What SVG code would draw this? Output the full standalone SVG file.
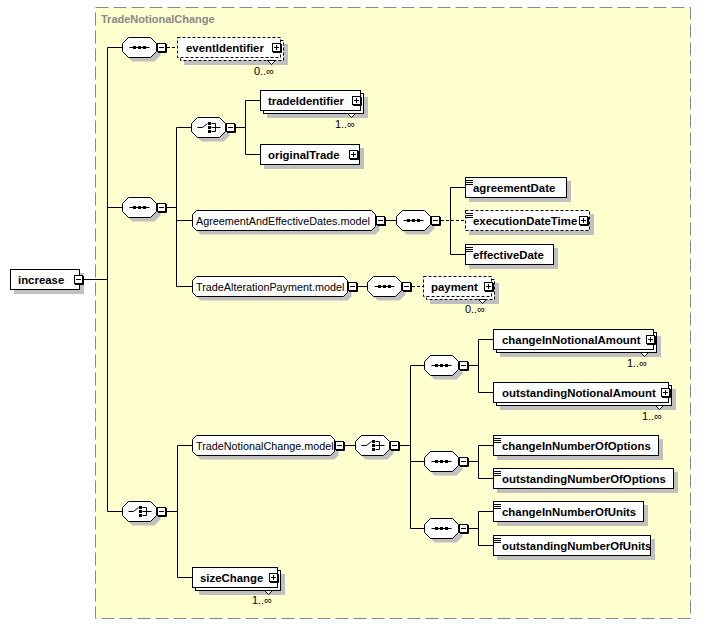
<svg xmlns="http://www.w3.org/2000/svg" xmlns:xlink="http://www.w3.org/1999/xlink" width="702" height="625" viewBox="0 0 702 625">
<style>
.bx{fill:#fff;stroke:#000;stroke-width:1}
.op{stroke-dasharray:3,2}
.sh{fill:#c0c0c0;stroke:none}
.el{font-family:"Liberation Sans",Arial,sans-serif;font-weight:bold;font-size:11.4px;fill:#000}
.md{font-family:"Liberation Sans",Arial,sans-serif;font-size:10.8px;fill:#000}
.oc{font-family:"Liberation Sans",Arial,sans-serif;font-size:11px;fill:#000;text-anchor:end}
.ic{stroke:#000;stroke-width:1;fill:none}
.cn{stroke:#000;stroke-width:1;fill:none}
.dcn{stroke:#000;stroke-width:1;fill:none;stroke-dasharray:3,2}
</style>
<defs>
<g id="mn"><rect x="0.5" y="0.5" width="8" height="8" fill="#fff" stroke="#000"/><path d="M9.5 1V9.5H1" stroke="#000" fill="none"/><path d="M2 4.5H7" stroke="#000"/></g>
<g id="pl"><rect x="0.5" y="0.5" width="8" height="8" fill="#fff" stroke="#000"/><path d="M9.5 1V9.5H1" stroke="#000" fill="none"/><path d="M2 4.5H7M4.5 2V7" stroke="#000"/></g>
<g id="oct">
<polygon class="sh" points="10,-6 32,-6 38,0 38,8 32,14 10,14 4,8 4,0"/>
<polygon class="bx" points="6,-10 28,-10 34,-4 34,4 28,10 6,10 0,4 0,-4"/>
<use xlink:href="#mn" href="#mn" x="34.5" y="-4.5"/>
</g>
<g id="seq">
<use xlink:href="#oct" href="#oct"/>
<path class="ic" d="M7 0H27"/>
<rect x="10.5" y="-1.5" width="3" height="3"/>
<rect x="15.5" y="-1.5" width="3" height="3"/>
<rect x="20.5" y="-1.5" width="3" height="3"/>
</g>
<g id="cho">
<use xlink:href="#oct" href="#oct"/>
<path class="ic" d="M6 0H11L16 -4M20 -4H24V4H20M20 0H29"/>
<rect x="16.5" y="-5.5" width="3" height="3"/>
<rect x="16.5" y="-1.5" width="3" height="3"/>
<rect x="16.5" y="2.5" width="3" height="3"/>
</g>
<path id="sti" d="M0 0H7M0 2H7M0 4H7" stroke="#000" fill="none"/>
</defs>

<g id="background">
<rect x="95.5" y="7.5" width="595" height="611" fill="#FFFFD0" stroke="#888" stroke-dasharray="13,5"/>
<text x="101" y="23" style="font-family:'Liberation Sans',Arial,sans-serif;font-weight:bold;font-size:11px;fill:#888">TradeNotionalChange</text>
</g>

<g id="connectors">
<path class="cn" d="M84 279.5H107.5M107.5 47.5V511.5M107.5 47.5H122.5M107.5 207.5H122.5M107.5 511.5H122.5"/>
<path class="dcn" d="M167 47.5H177.5"/>
<path class="cn" d="M167 207.5H176.5M176.5 127.5V286.5M176.5 127.5H191.5M176.5 220.5H192.5M176.5 286.5H192.5"/>
<path class="cn" d="M236 127.5H245.5M245.5 100.5V154.5M245.5 100.5H260.5M245.5 154.5H260.5"/>
<path class="cn" d="M386 220.5H396.5M450.5 187.5V254.5M450.5 187.5H465.5M450.5 254.5H465.5"/>
<path class="dcn" d="M441 220.5H465.5"/>
<path class="cn" d="M358 286.5H367.5"/>
<path class="dcn" d="M412 286.5H423.5"/>
<path class="cn" d="M167 511.5H177.5M177.5 445.5V577.5M177.5 445.5H192.5M177.5 577.5H192.5"/>
<path class="cn" d="M345 445.5H355.5M400 445.5H410.5M410.5 365.5V528.5M410.5 365.5H424.5M410.5 461.5H424.5M410.5 528.5H424.5"/>
<path class="cn" d="M469 365.5H478.5M478.5 339.5V392.5M478.5 339.5H493.5M478.5 392.5H493.5"/>
<path class="cn" d="M469 461.5H478.5M478.5 445.5V478.5M478.5 445.5H493.5M478.5 478.5H493.5"/>
<path class="cn" d="M469 528.5H478.5M478.5 511.5V545.5M478.5 511.5H493.5M478.5 545.5H493.5"/>
</g>

<g id="increase">
<rect class="sh" x="14" y="273" width="70" height="21"/>
<rect class="bx" x="10.5" y="269.5" width="69" height="20"/>
<text class="el" x="18" y="284">increase</text>
<use xlink:href="#mn" href="#mn" x="74" y="275"/>
</g>

<g id="seqTop"><use xlink:href="#seq" href="#seq" x="122.5" y="47.5"/></g>
<g id="seqMain"><use xlink:href="#seq" href="#seq" x="122.5" y="207.5"/></g>
<g id="choiceTrade"><use xlink:href="#cho" href="#cho" x="191.5" y="127.5"/></g>
<g id="seqDates"><use xlink:href="#seq" href="#seq" x="396.5" y="220.5"/></g>
<g id="seqPayment"><use xlink:href="#seq" href="#seq" x="367.5" y="286.5"/></g>
<g id="choiceMain"><use xlink:href="#cho" href="#cho" x="122.5" y="511.5"/></g>
<g id="choiceNotional"><use xlink:href="#cho" href="#cho" x="355.5" y="445.5"/></g>
<g id="seqNotionalAmount"><use xlink:href="#seq" href="#seq" x="424.5" y="365.5"/></g>
<g id="seqOptions"><use xlink:href="#seq" href="#seq" x="424.5" y="461.5"/></g>
<g id="seqUnits"><use xlink:href="#seq" href="#seq" x="424.5" y="528.5"/></g>

<g id="eventIdentifier">
<rect class="sh" x="184" y="44" width="104" height="21"/>
<rect class="bx op" x="180.5" y="40.5" width="103" height="20"/>
<rect class="bx op" x="177.5" y="37.5" width="103" height="20"/>
<polygon class="bx" points="267.5,60.5 271.5,64.5 275.5,60.5"/>
<text class="el" x="186" y="52">eventIdentifier</text>
<use xlink:href="#pl" href="#pl" x="272" y="43"/>
<text class="oc" x="274" y="75">0..∞</text>
</g>

<g id="tradeIdentifier">
<rect class="sh" x="267" y="97" width="101" height="21"/>
<rect class="bx" x="263.5" y="93.5" width="100" height="20"/>
<rect class="bx" x="260.5" y="90.5" width="100" height="20"/>
<polygon class="bx" points="347.5,113.5 351.5,117.5 355.5,113.5"/>
<text class="el" x="268" y="105">tradeIdentifier</text>
<use xlink:href="#pl" href="#pl" x="352" y="96"/>
<text class="oc" x="355" y="128">1..∞</text>
</g>

<g id="originalTrade">
<rect class="sh" x="264" y="148" width="100" height="21"/>
<rect class="bx" x="260.5" y="144.5" width="99" height="20"/>
<text class="el" x="268" y="159">originalTrade</text>
<use xlink:href="#pl" href="#pl" x="349" y="150"/>
</g>

<g id="AgreementAndEffectiveDates.model">
<polygon class="sh" points="200.5,214.5 375.5,214.5 379.5,218.5 379.5,230.5 375.5,234.5 200.5,234.5 196.5,230.5 196.5,218.5"/>
<polygon class="bx" points="196.5,210.5 371.5,210.5 375.5,214.5 375.5,226.5 371.5,230.5 196.5,230.5 192.5,226.5 192.5,214.5"/>
<text class="md" x="196" y="225">AgreementAndEffectiveDates.model</text>
<use xlink:href="#mn" href="#mn" x="376" y="216"/>
</g>

<g id="agreementDate">
<rect class="sh" x="469" y="181" width="102" height="21"/>
<rect class="bx" x="465.5" y="177.5" width="101" height="20"/>
<use xlink:href="#sti" href="#sti" x="466" y="180.5"/>
<text class="el" x="473" y="192">agreementDate</text>
</g>

<g id="executionDateTime">
<rect class="sh" x="469" y="214" width="125" height="21"/>
<rect class="bx op" x="465.5" y="210.5" width="124" height="20"/>
<use xlink:href="#sti" href="#sti" x="466" y="213.5"/>
<text class="el" x="473" y="225">executionDateTime</text>
<use xlink:href="#pl" href="#pl" x="579" y="216"/>
</g>

<g id="effectiveDate">
<rect class="sh" x="469" y="248" width="89" height="21"/>
<rect class="bx" x="465.5" y="244.5" width="88" height="20"/>
<use xlink:href="#sti" href="#sti" x="466" y="247.5"/>
<text class="el" x="473" y="259">effectiveDate</text>
</g>

<g id="TradeAlterationPayment.model">
<polygon class="sh" points="200.5,280.5 347.5,280.5 351.5,284.5 351.5,296.5 347.5,300.5 200.5,300.5 196.5,296.5 196.5,284.5"/>
<polygon class="bx" points="196.5,276.5 343.5,276.5 347.5,280.5 347.5,292.5 343.5,296.5 196.5,296.5 192.5,292.5 192.5,280.5"/>
<text class="md" x="196" y="291">TradeAlterationPayment.model</text>
<use xlink:href="#mn" href="#mn" x="348" y="282"/>
</g>

<g id="payment">
<rect class="sh" x="430" y="283" width="69" height="21"/>
<rect class="bx op" x="426.5" y="279.5" width="68" height="20"/>
<rect class="bx op" x="423.5" y="276.5" width="68" height="20"/>
<polygon class="bx" points="478.5,299.5 482.5,303.5 486.5,299.5"/>
<text class="el" x="431" y="291">payment</text>
<use xlink:href="#pl" href="#pl" x="484" y="282"/>
<text class="oc" x="485" y="313">0..∞</text>
</g>

<g id="TradeNotionalChange.model">
<polygon class="sh" points="200.5,439.5 334.5,439.5 338.5,443.5 338.5,455.5 334.5,459.5 200.5,459.5 196.5,455.5 196.5,443.5"/>
<polygon class="bx" points="196.5,435.5 330.5,435.5 334.5,439.5 334.5,451.5 330.5,455.5 196.5,455.5 192.5,451.5 192.5,439.5"/>
<text class="md" x="196" y="450">TradeNotionalChange.model</text>
<use xlink:href="#mn" href="#mn" x="335" y="441"/>
</g>

<g id="changeInNotionalAmount">
<rect class="sh" x="500" y="336" width="161" height="21"/>
<rect class="bx" x="496.5" y="332.5" width="160" height="20"/>
<rect class="bx" x="493.5" y="329.5" width="160" height="20"/>
<polygon class="bx" points="640.5,352.5 644.5,356.5 648.5,352.5"/>
<text class="el" x="502" y="344">changeInNotionalAmount</text>
<use xlink:href="#pl" href="#pl" x="646" y="335"/>
<text class="oc" x="647" y="367">1..∞</text>
</g>

<g id="outstandingNotionalAmount">
<rect class="sh" x="500" y="389" width="176" height="21"/>
<rect class="bx" x="496.5" y="385.5" width="175" height="20"/>
<rect class="bx" x="493.5" y="382.5" width="175" height="20"/>
<polygon class="bx" points="655.5,405.5 659.5,409.5 663.5,405.5"/>
<text class="el" x="502" y="397">outstandingNotionalAmount</text>
<use xlink:href="#pl" href="#pl" x="661" y="388"/>
<text class="oc" x="662" y="420">1..∞</text>
</g>

<g id="changeInNumberOfOptions">
<rect class="sh" x="497" y="439" width="166" height="21"/>
<rect class="bx" x="493.5" y="435.5" width="165" height="20"/>
<use xlink:href="#sti" href="#sti" x="494" y="438.5"/>
<text class="el" x="502" y="450">changeInNumberOfOptions</text>
</g>

<g id="outstandingNumberOfOptions">
<rect class="sh" x="497" y="472" width="181" height="21"/>
<rect class="bx" x="493.5" y="468.5" width="180" height="20"/>
<use xlink:href="#sti" href="#sti" x="494" y="471.5"/>
<text class="el" x="502" y="483">outstandingNumberOfOptions</text>
</g>

<g id="changeInNumberOfUnits">
<rect class="sh" x="497" y="505" width="151" height="21"/>
<rect class="bx" x="493.5" y="501.5" width="150" height="20"/>
<use xlink:href="#sti" href="#sti" x="494" y="504.5"/>
<text class="el" x="502" y="516">changeInNumberOfUnits</text>
</g>

<g id="outstandingNumberOfUnits">
<rect class="sh" x="497" y="539" width="158" height="21"/>
<rect class="bx" x="493.5" y="535.5" width="157" height="20"/>
<use xlink:href="#sti" href="#sti" x="494" y="538.5"/>
<text class="el" x="502" y="550">outstandingNumberOfUnits</text>
</g>

<g id="sizeChange">
<rect class="sh" x="199" y="574" width="86" height="21"/>
<rect class="bx" x="195.5" y="570.5" width="85" height="20"/>
<rect class="bx" x="192.5" y="567.5" width="85" height="20"/>
<polygon class="bx" points="264.5,590.5 268.5,594.5 272.5,590.5"/>
<text class="el" x="200" y="582">sizeChange</text>
<use xlink:href="#pl" href="#pl" x="269" y="573"/>
<text class="oc" x="272" y="604">1..∞</text>
</g>
</svg>
